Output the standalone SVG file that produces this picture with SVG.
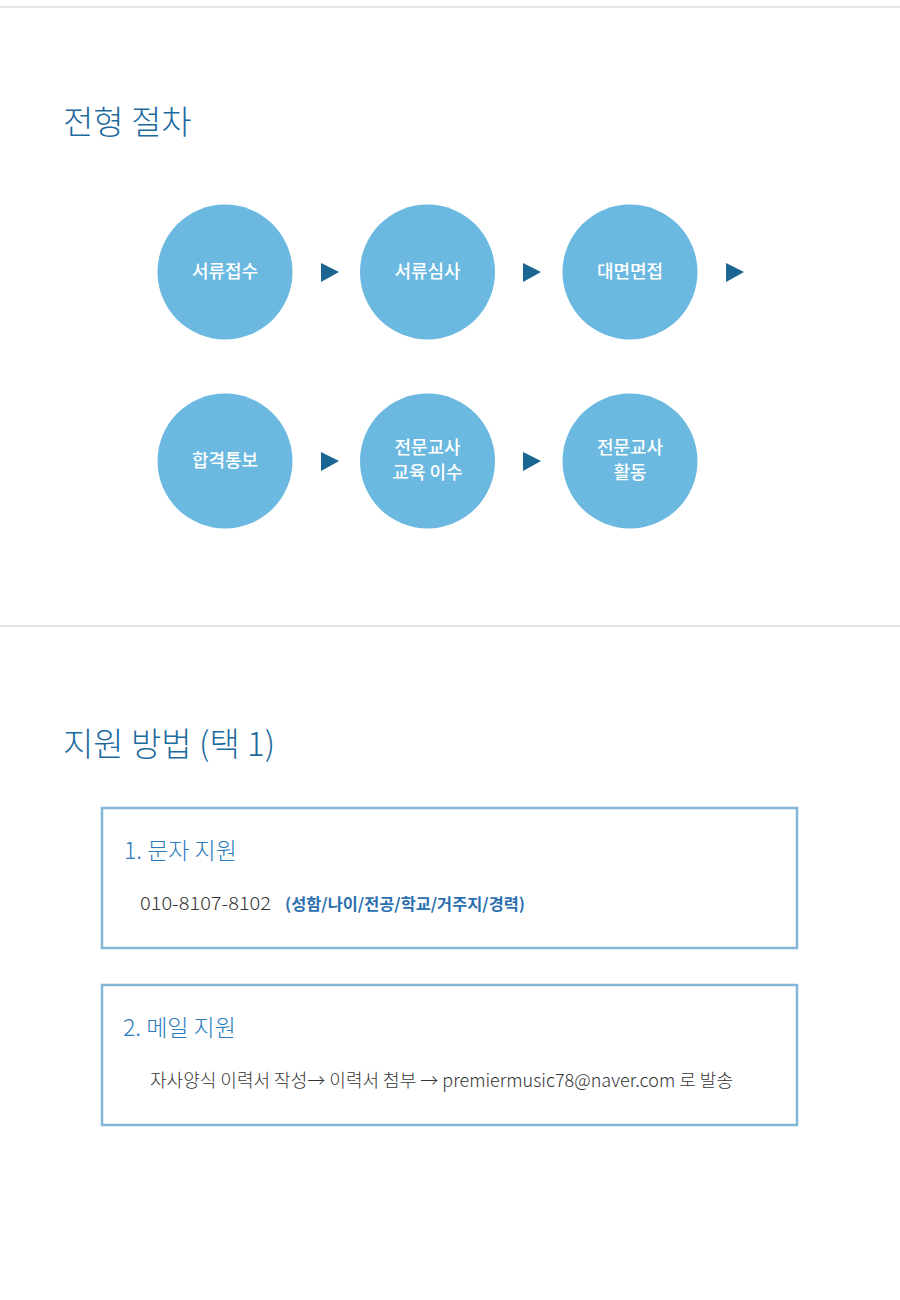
<svg xmlns="http://www.w3.org/2000/svg" width="900" height="1300" viewBox="0 0 900 1300">
<style>
.f{font-family:"Noto Sans CJK KR","Noto Sans",sans-serif}
.h{font-size:33px;fill:#1d6a9e;font-weight:300}
.c{fill:#6bb8e0}
.ct{font-size:18px;fill:#fff;text-anchor:middle;font-weight:500}
.a{fill:#1b6592}
.box{fill:#fff;stroke:#84b6d8;stroke-width:2.5}
.sub{font-size:23px;fill:#2b7bbd;font-weight:300}
.body{font-size:18px;fill:#333;font-weight:300}
.note{font-size:16px;fill:#2b6fb0;font-weight:700}
</style>
<rect width="900" height="1300" fill="#fff"/>
<line x1="0" y1="7" x2="900" y2="7" stroke="#dcdcdc" stroke-width="1.5"/>
<line x1="0" y1="626" x2="900" y2="626" stroke="#dcdcdc" stroke-width="1.5"/>
<text class="f h" x="63" y="134">전형 절차</text>
<g id="n1"><circle class="c" cx="225" cy="272" r="67.5"/><text class="f ct" x="225" y="278">서류접수</text></g>
<g id="n2"><circle class="c" cx="427.5" cy="272" r="67.5"/><text class="f ct" x="427.5" y="278">서류심사</text></g>
<g id="n3"><circle class="c" cx="630" cy="272" r="67.5"/><text class="f ct" x="630" y="278">대면면접</text></g>
<g id="n4"><circle class="c" cx="225" cy="461" r="67.5"/><text class="f ct" x="225" y="467">합격통보</text></g>
<g id="n5"><circle class="c" cx="427.5" cy="461" r="67.5"/><text class="f ct" x="427.5" y="454">전문교사</text><text class="f ct" x="427.5" y="479">교육 이수</text></g>
<g id="n6"><circle class="c" cx="630" cy="461" r="67.5"/><text class="f ct" x="630" y="454">전문교사</text><text class="f ct" x="630" y="479">활동</text></g>
<g id="connectors">
<polygon class="a" points="321,263 339,272 321,282"/>
<polygon class="a" points="523,263 541,272 523,282"/>
<polygon class="a" points="726,263 744,272 726,282"/>
<polygon class="a" points="321,452 339,461 321,471"/>
<polygon class="a" points="523,452 541,461 523,471"/>
</g>
<text class="f h" x="63" y="756">지원 방법 (택 1)</text>
<g id="box1">
<rect class="box" x="102" y="808" width="695" height="140"/>
<text class="f sub" x="124" y="859">1. 문자 지원</text>
<text class="f body" x="140" y="910" textLength="131" lengthAdjust="spacingAndGlyphs">010-8107-8102</text>
<text class="f note" x="285" y="910" textLength="240" lengthAdjust="spacingAndGlyphs">(성함/나이/전공/학교/거주지/경력)</text>
</g>
<g id="box2">
<rect class="box" x="102" y="985" width="695" height="140"/>
<text class="f sub" x="123" y="1036">2. 메일 지원</text>
<text class="f body" x="150" y="1087" textLength="583" lengthAdjust="spacingAndGlyphs">자사양식 이력서 작성→ 이력서 첨부 → premiermusic78@naver.com 로 발송</text>
</g>
</svg>
